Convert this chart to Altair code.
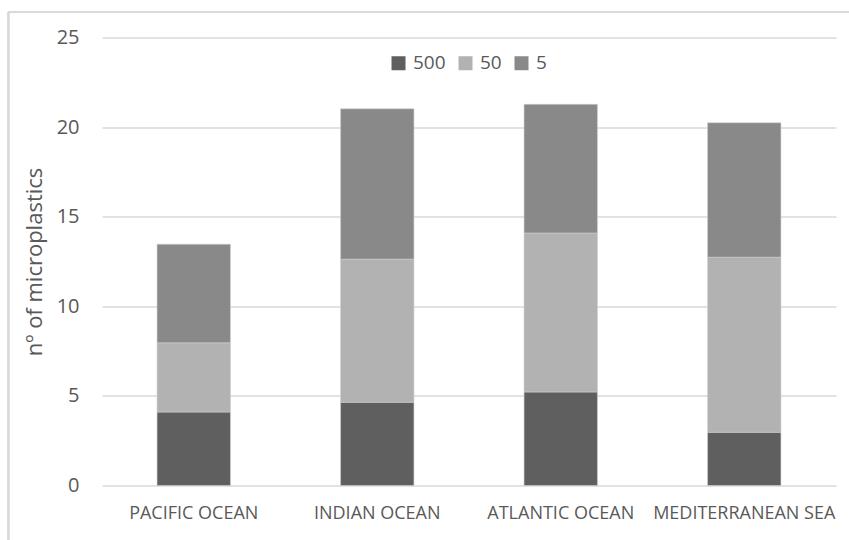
import altair as alt
import pandas as pd

# Microplastic counts per ocean, split by size class
regions = ["PACIFIC OCEAN", "INDIAN OCEAN", "ATLANTIC OCEAN", "MEDITERRANEAN SEA"]
size_classes = ["500", "50", "5"]
counts_500 = [4.10, 4.65, 5.22, 2.97]
counts_50 = [3.86, 7.98, 8.87, 9.77]
counts_5 = [5.50, 8.39, 7.18, 7.50]
colors = ["#5f5f5f", "#b2b2b2", "#898989"]

rows = []
for i, region in enumerate(regions):
    for k, (cls, vals) in enumerate(zip(size_classes, [counts_500, counts_50, counts_5])):
        rows.append({"region": region, "size": cls, "order": k, "count": vals[i]})
df = pd.DataFrame(rows)

FONT = "Open Sans"
TEXT = "#595959"

bars = alt.Chart(df).mark_bar(stroke="#cfcfcf", strokeWidth=0.6).encode(
    x=alt.X("region:N", sort=regions, title=None,
            scale=alt.Scale(paddingInner=0.6, paddingOuter=0.3),
            axis=alt.Axis(labelAngle=0, labelFontSize=18, labelColor=TEXT,
                          labelFont=FONT, labelPadding=19, labelLimit=0,
                          domain=False, ticks=False)),
    y=alt.Y("count:Q", stack="zero", title="nº of microplastics",
            scale=alt.Scale(domain=[0, 25]),
            axis=alt.Axis(values=[0, 5, 10, 15, 20, 25], labelFontSize=20,
                          labelColor=TEXT, labelFont=FONT, labelPadding=23,
                          titleFontSize=22, titleColor=TEXT, titleFont=FONT,
                          titleFontWeight="normal", titlePadding=10,
                          domain=False, ticks=False, gridColor="#d9d9d9",
                          gridWidth=1.3)),
    color=alt.Color("size:N", sort=size_classes,
                    scale=alt.Scale(domain=size_classes, range=colors),
                    legend=alt.Legend(title=None, orient="none", direction="horizontal",
                                      legendX=287, legendY=16, symbolType="square",
                                      symbolSize=196, symbolStrokeWidth=0,
                                      labelFontSize=19, labelColor=TEXT, labelFont=FONT,
                                      columnPadding=10, labelOffset=5)),
    order=alt.Order("order:Q", sort="ascending"),
)

# Light frame around the chart area
frame_top = alt.Chart(df).mark_rule(color="#d9d9d9", strokeWidth=1.3).encode(
    x=alt.value(-93.5), x2=alt.value(760), y=alt.value(-25.5))
frame_left = alt.Chart(df).mark_rule(color="#d9d9d9", strokeWidth=1.3).encode(
    x=alt.value(-93.5), y=alt.value(-25.5), y2=alt.value(520))

chart = alt.layer(bars, frame_top, frame_left).properties(
    width=734, height=448,
    background="white",
    autosize=alt.AutoSizeParams(type="none"),
    padding={"left": 102, "top": 37.5, "right": 13, "bottom": 54.5},
).configure_view(strokeWidth=0, stroke="transparent")

chart.save("out.html", embed_options={"renderer": "svg", "actions": False})
